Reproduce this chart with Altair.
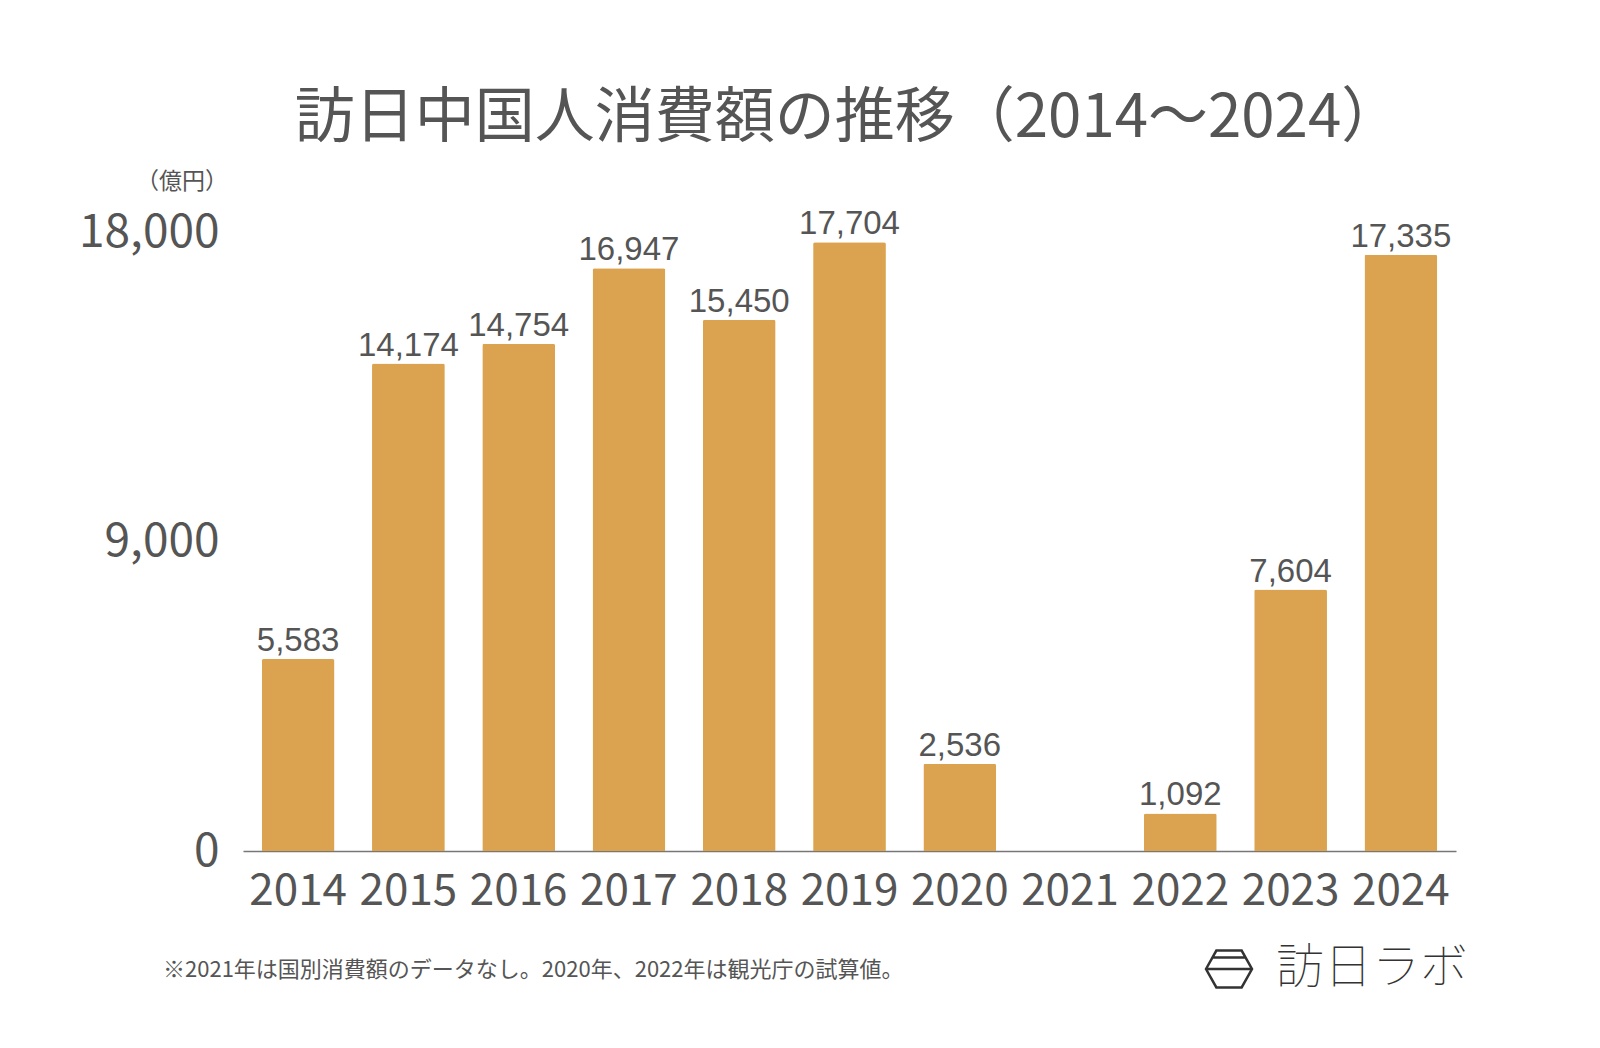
import altair as alt
import pandas as pd

years = ["2014", "2015", "2016", "2017", "2018", "2019", "2020", "2021", "2022", "2023", "2024"]
values = [5583, 14174, 14754, 16947, 15450, 17704, 2536, None, 1092, 7604, 17335]
y_ticks = [0, 9000, 18000]
title_text = "訪日中国人消費額の推移（2014〜2024）"
unit_text = "（億円）"
note_text = "※2021年は国別消費額のデータなし。2020年、2022年は観光庁の試算値。"
logo_text = "訪日ラボ"

df = pd.DataFrame({"year": years, "value": values})

JP = "Noto Sans CJK JP"
GRAY = "#555555"
BAR = "#DBA34F"

W, H = 1213, 619

x_enc = alt.X("year:N", sort=years,
              scale=alt.Scale(paddingInner=0.34, paddingOuter=0.17),
              axis=alt.Axis(title=None, labelAngle=0, labelFontSize=44, labelFont=JP,
                            labelColor=GRAY, ticks=False, domainColor="#777777",
                            domainWidth=1.5, labelPadding=18))
y_enc = alt.Y("value:Q", scale=alt.Scale(domain=[0, 18000], nice=False),
              axis=alt.Axis(title=None, values=y_ticks, format=",.0f", labelFontSize=46,
                            labelFont=JP, labelColor=GRAY, ticks=False, domain=False,
                            grid=False, labelPadding=24))

base = alt.Chart(df)
bars = base.mark_bar(color=BAR, cornerRadiusTopLeft=2, cornerRadiusTopRight=2).encode(
    x=x_enc, y=y_enc)
labels = base.transform_filter("datum.value != null").mark_text(
    baseline="alphabetic", dy=-8, fontSize=33, font="Liberation Sans", color=GRAY
).encode(x=alt.X("year:N", sort=years), y="value:Q", text=alt.Text("value:Q", format=",.0f"))


def txt(s, x, y, size, align="center", baseline="middle", font=JP, color=GRAY, weight="normal"):
    return alt.Chart(pd.DataFrame({"t": [s]})).mark_text(
        align=align, baseline=baseline, fontSize=size, font=font, color=color, fontWeight=weight
    ).encode(x=alt.value(x), y=alt.value(y), text="t:N")


title = txt(title_text, 605, -113, 60)
unit = txt(unit_text, -61, -50, 23)
note = txt(note_text, -80, 738, 22, align="left")
logo = txt(logo_text, 1033, 737, 48, align="left", color="#333333", weight="lighter")

hex_path = ("M-1,0L-0.55,-0.8L0.55,-0.8L1,0L0.55,0.8L-0.55,0.8Z "
            "M-1,0L1,0 M-0.72,-0.5L0.72,-0.5")
hexagon = alt.Chart(pd.DataFrame({"t": [logo_text]})).mark_point(
    shape=hex_path, filled=False, stroke="#333333", strokeWidth=2.5, size=2116, opacity=1
).encode(x=alt.value(986), y=alt.value(737))

chart = alt.layer(bars, labels, title, unit, note, logo, hexagon).properties(
    width=W, height=H,
    autosize=alt.AutoSizeParams(type="none"),
    padding={"left": 235, "top": 224, "right": 136, "bottom": 197},
).configure_view(strokeWidth=0, stroke="transparent")

chart.save("out.html", embed_options={"renderer": "svg", "actions": False})
